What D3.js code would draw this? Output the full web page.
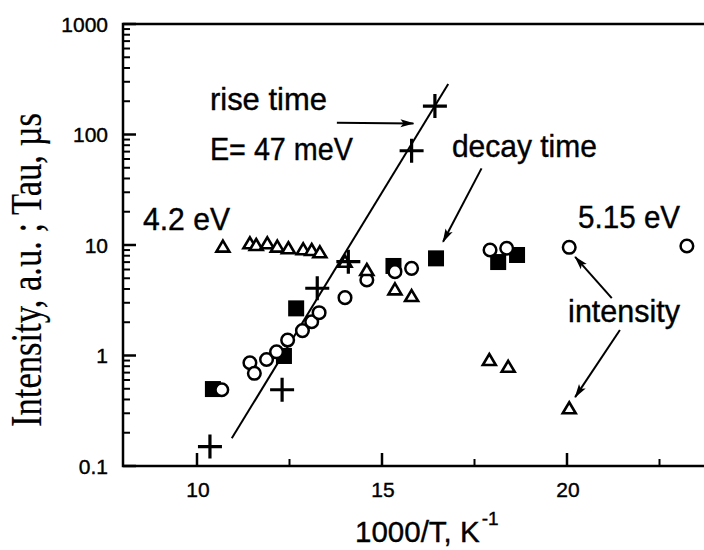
<!DOCTYPE html>
<html>
<head>
<meta charset="utf-8">
<script src="https://cdn.jsdelivr.net/npm/d3@7/dist/d3.min.js"></script>
<style>
  html, body { margin: 0; padding: 0; background: #fff; }
  svg { display: block; }
  text { font-family: "Liberation Sans", Arial, sans-serif; fill: #000; stroke: #000; stroke-width: 0.4px; }
</style>
</head>
<body>
<svg id="chart" width="704" height="550"></svg>
<script>
// data (x = 1000/T, y = intensity or tau)
const triangleX = [10.7, 11.43, 11.6, 11.9, 12.17, 12.47, 12.87, 13.1, 13.32, 14.0, 14.59, 15.35, 15.8, 17.9, 18.41, 20.06];
const triangleY = [9.66, 10.36, 10.0, 10.36, 9.66, 9.34, 9.14, 9.01, 8.59, 7.06, 5.94, 3.97, 3.45, 0.91, 0.79, 0.333];

const circleX = [10.67, 11.43, 11.55, 11.88, 12.15, 12.45, 12.85, 13.1, 13.3, 14.0, 14.59, 15.35, 15.8, 17.92, 18.37, 20.06, 23.24];
const circleY = [0.49, 0.86, 0.69, 0.92, 1.08, 1.38, 1.68, 2.02, 2.44, 3.34, 4.82, 5.74, 6.15, 9.01, 9.34, 9.53, 9.8];

const squareX = [10.43, 12.35, 12.68, 15.31, 16.46, 18.14, 18.65];
const squareY = [0.497, 0.99, 2.67, 6.46, 7.57, 7.01, 8.12];

const crossX = [10.35, 12.3, 13.25, 14.09, 15.8, 16.43];
const crossY = [0.150, 0.49, 4.06, 7.06, 71.3, 181];

// activation fit for the rise time
const fitX = [10.94, 16.79];
const fitY = [0.178, 286];

const xMajorTicks = [10, 15, 20];
const xMinorTicks = [12.5, 17.5, 22.5];
const yMajorTicks = [0.1, 1, 10, 100, 1000];

const svg = d3.select('#chart');

const x = d3.scaleLinear().domain([8, 24]).range([123, 715]);
const y = d3.scaleLog().domain([0.1, 1000]).range([466, 24]);

// arrow head marker
svg.append('defs').append('marker')
  .attr('id', 'head')
  .attr('viewBox', '0 0 14 10')
  .attr('refX', 13).attr('refY', 5)
  .attr('markerWidth', 14).attr('markerHeight', 10)
  .attr('markerUnits', 'userSpaceOnUse')
  .attr('orient', 'auto')
  .append('path')
  .attr('d', 'M0,1 L14,5 L0,9 L3,5 Z')
  .attr('fill', '#000');

// fit line (behind the markers)
svg.append('path')
  .datum(fitX.map((v, i) => [v, fitY[i]]))
  .attr('fill', 'none')
  .attr('stroke', '#000')
  .attr('stroke-width', 2)
  .attr('d', d3.line().x(d => x(d[0])).y(d => y(d[1])));

// filled squares (decay time)
svg.selectAll('.sq')
  .data(squareX.map((v, i) => [v, squareY[i]]))
  .join('rect')
  .attr('x', d => x(d[0]) - 8)
  .attr('y', d => y(d[1]) - 8)
  .attr('width', 16).attr('height', 16)
  .attr('fill', '#000');

// open circles (5.15 eV intensity)
svg.selectAll('.circ')
  .data(circleX.map((v, i) => [v, circleY[i]]))
  .join('circle')
  .attr('cx', d => x(d[0]))
  .attr('cy', d => y(d[1]))
  .attr('r', 6.3)
  .attr('fill', '#fff')
  .attr('stroke', '#000')
  .attr('stroke-width', 2.5);

// open triangles (4.2 eV intensity)
svg.selectAll('.tri')
  .data(triangleX.map((v, i) => [v, triangleY[i]]))
  .join('path')
  .attr('transform', d => `translate(${x(d[0])},${y(d[1])})`)
  .attr('d', 'M0,-6 L6.5,5 L-6.5,5 Z')
  .attr('fill', '#fff')
  .attr('stroke', '#000')
  .attr('stroke-width', 2.6)
  .attr('stroke-linejoin', 'miter');

// crosses (rise time)
svg.selectAll('.cross')
  .data(crossX.map((v, i) => [v, crossY[i]]))
  .join('path')
  .attr('transform', d => `translate(${x(d[0])},${y(d[1])})`)
  .attr('d', 'M-12,0 L12,0 M0,-12 L0,12')
  .attr('stroke', '#000')
  .attr('stroke-width', 3.2)
  .attr('fill', 'none');

// frame and axes
svg.append('rect')
  .attr('x', x(8)).attr('y', y(1000))
  .attr('width', x(24) - x(8)).attr('height', y(0.1) - y(1000))
  .attr('fill', 'none')
  .attr('stroke', '#000')
  .attr('stroke-width', 2.5);

const yAxis = svg.append('g').attr('transform', `translate(${x(8)},0)`);
yAxis.selectAll('.ymin')
  .data(y.ticks().filter(t => !yMajorTicks.includes(t)))
  .join('line')
  .attr('x1', 0).attr('x2', 7)
  .attr('y1', d => y(d)).attr('y2', d => y(d))
  .attr('stroke', '#000').attr('stroke-width', 2);
yAxis.selectAll('.ymaj')
  .data(yMajorTicks)
  .join('line')
  .attr('x1', 0).attr('x2', 13)
  .attr('y1', d => y(d)).attr('y2', d => y(d))
  .attr('stroke', '#000').attr('stroke-width', 2.5);
yAxis.selectAll('.ylab')
  .data(yMajorTicks)
  .join('text')
  .attr('x', -15)
  .attr('y', d => y(d))
  .attr('dy', '0.36em')
  .attr('text-anchor', 'end')
  .style('font-size', '21px')
  .text(d => d3.format('~g')(d));

const xAxis = svg.append('g').attr('transform', `translate(0,${y(0.1)})`);
xAxis.selectAll('.xmin')
  .data(xMinorTicks)
  .join('line')
  .attr('x1', d => x(d)).attr('x2', d => x(d))
  .attr('y1', 0).attr('y2', -7)
  .attr('stroke', '#000').attr('stroke-width', 2);
xAxis.selectAll('.xmaj')
  .data(xMajorTicks)
  .join('line')
  .attr('x1', d => x(d)).attr('x2', d => x(d))
  .attr('y1', 0).attr('y2', -13)
  .attr('stroke', '#000').attr('stroke-width', 2.5);
xAxis.selectAll('.xlab')
  .data(xMajorTicks)
  .join('text')
  .attr('x', d => x(d) + 1)
  .attr('y', 31)
  .attr('text-anchor', 'middle')
  .style('font-size', '21px')
  .text(d => d);

// axis titles
const xTitle = svg.append('text')
  .attr('x', 355).attr('y', 542)
  .style('font-size', '29.5px');
xTitle.append('tspan').text('1000/T, K');
xTitle.append('tspan')
  .attr('dx', 2).attr('dy', -17)
  .style('font-size', '19px')
  .text('-1');

svg.append('text')
  .attr('transform', 'translate(41,427) rotate(-90)')
  .attr('textLength', 314).attr('lengthAdjust', 'spacingAndGlyphs')
  .style('font-family', '"Liberation Serif", "Times New Roman", serif')
  .style('font-size', '44px')
  .style('stroke-width', '0.2px')
  .text('Intensity, a.u. ; Tau, \u00b5s');

// annotations, anchored in data space
const notes = [
  { t: 'rise time', x: 10.35, y: 166.7, w: 117 },
  { t: 'E= 47 meV', x: 10.35, y: 58.7, w: 143 },
  { t: '4.2 eV', x: 8.54, y: 13.7, w: 87 },
  { t: 'decay time', x: 16.89, y: 62.5, w: 145 },
  { t: '5.15 eV', x: 20.3, y: 14.3, w: 102 },
  { t: 'intensity', x: 20.03, y: 2.01, w: 112 }
];
svg.selectAll('.note')
  .data(notes)
  .join('text')
  .attr('x', d => x(d.x))
  .attr('y', d => y(d.y))
  .attr('textLength', d => d.w)
  .attr('lengthAdjust', 'spacingAndGlyphs')
  .style('font-size', '32px')
  .text(d => d.t);

const arrows = [
  { x1: 13.78, y1: 128, x2: 15.85, y2: 126 },
  { x1: 17.69, y1: 49.4, x2: 16.65, y2: 10.7 },
  { x1: 21.21, y1: 3.3, x2: 20.22, y2: 7.8 },
  { x1: 21.43, y1: 1.70, x2: 20.22, y2: 0.42 }
];
svg.selectAll('.arrow')
  .data(arrows)
  .join('line')
  .attr('x1', d => x(d.x1)).attr('y1', d => y(d.y1))
  .attr('x2', d => x(d.x2)).attr('y2', d => y(d.y2))
  .attr('stroke', '#000')
  .attr('stroke-width', 2)
  .attr('marker-end', 'url(#head)');
</script>
</body>
</html>
